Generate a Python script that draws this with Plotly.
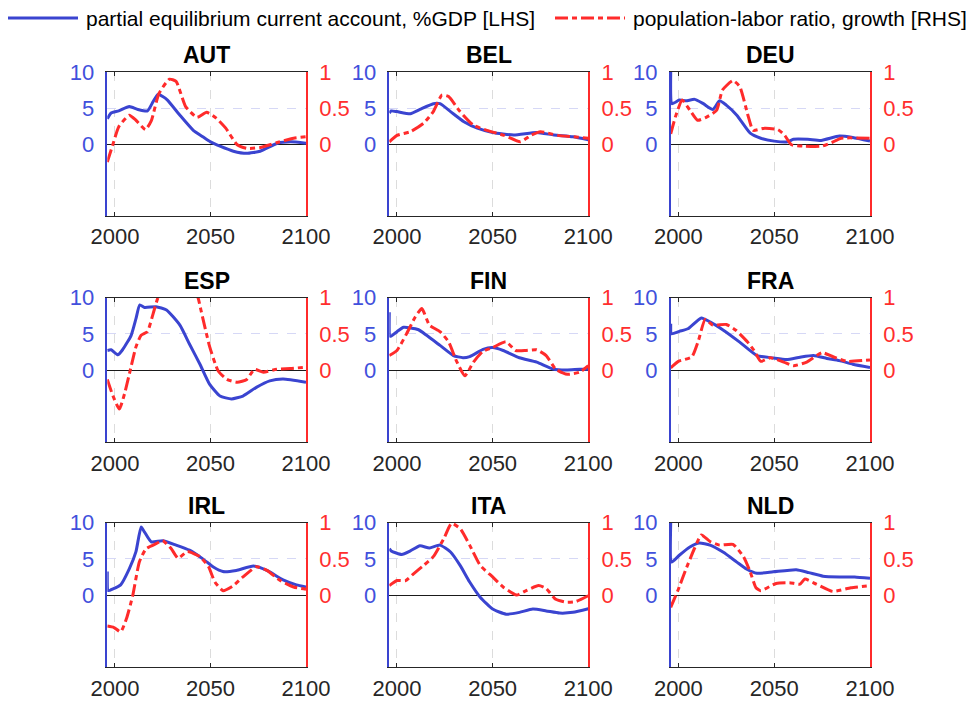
import plotly.graph_objects as go

# ---------------- data ----------------
countries = ["AUT", "BEL", "DEU", "ESP", "FIN", "FRA", "IRL", "ITA", "NLD"]
x_ticks = [2000, 2050, 2100]
lhs_ticks = [0, 5, 10]
rhs_ticks = [0, 0.5, 1]
rhs_ticktext = ["0", "0.5", "1"]

# partial equilibrium current account, %GDP [LHS]
AUT_ca_yr = [1996, 1998, 2002, 2007.5, 2012, 2017, 2020, 2022.5, 2025, 2027.5, 2034, 2041, 2046, 2050, 2055, 2062, 2069, 2076, 2085, 2092, 2100]
AUT_ca = [3.5, 4.3, 4.6, 5.2, 4.8, 4.6, 5.9, 6.9, 6.6, 6.1, 4.0, 1.9, 1.0, 0.3, -0.3, -1.0, -1.3, -1.0, 0.1, 0.3, 0.1]
BEL_ca_yr = [1996, 1997, 2000, 2007, 2012, 2019, 2022.5, 2028, 2035, 2042, 2050, 2061, 2073, 2082, 2092, 2100]
BEL_ca = [4.3, 4.6, 4.5, 4.2, 4.8, 5.6, 5.6, 4.5, 3.1, 2.2, 1.6, 1.25, 1.6, 1.25, 1.0, 0.6]
DEU_ca_yr = [1996, 1996.7, 2000.5, 2004, 2008.5, 2013, 2018, 2021.5, 2025, 2030.5, 2037.5, 2043, 2050, 2057, 2060, 2067.5, 2074.5, 2084, 2091, 2100]
DEU_ca = [10.0, 5.6, 6.1, 6.0, 6.2, 5.6, 4.8, 6.0, 5.4, 4.0, 1.5, 0.8, 0.4, 0.3, 0.65, 0.65, 0.5, 1.1, 0.9, 0.4]
ESP_ca_yr = [1996, 1998, 2001.5, 2004, 2008.5, 2011, 2013, 2015.5, 2021.5, 2027, 2034, 2039, 2044.5, 2049.5, 2055, 2061, 2067, 2074, 2081, 2088, 2100]
ESP_ca = [2.7, 2.8, 2.1, 2.8, 4.8, 7.1, 9.0, 8.65, 8.75, 8.3, 6.2, 3.6, 0.8, -1.95, -3.6, -4.0, -3.6, -2.4, -1.5, -1.25, -1.7]
FIN_ca_yr = [1996, 1996.5, 2000, 2003.5, 2011, 2015.5, 2022.5, 2029.5, 2034.5, 2038, 2045, 2050, 2055.5, 2064, 2073, 2081.5, 2088.5, 2095.5, 2100]
FIN_ca = [8.0, 4.65, 5.3, 5.9, 5.6, 4.8, 3.4, 2.0, 1.7, 1.85, 2.85, 3.1, 2.7, 1.7, 1.1, 0.15, 0.0, 0.1, 0.1]
FRA_ca_yr = [1996, 1996.4, 2000.5, 2005, 2012, 2016.5, 2023.5, 2032, 2041, 2049.5, 2056.5, 2063.5, 2070.5, 2077.5, 2084, 2091, 2100]
FRA_ca = [6.4, 5.0, 5.35, 5.7, 7.2, 6.65, 5.5, 3.85, 2.0, 1.67, 1.45, 1.77, 2.0, 1.6, 1.3, 0.8, 0.35]
IRL_ca_yr = [1996, 1996.5, 1999, 2003, 2007.5, 2011, 2013.7, 2015.5, 2019, 2025, 2032, 2039, 2046, 2051.5, 2056.5, 2063.5, 2072.5, 2079.5, 2088, 2095, 2100]
IRL_ca = [3.25, 0.6, 0.84, 1.4, 3.6, 6.0, 9.4, 8.7, 7.35, 7.5, 6.9, 6.2, 5.0, 3.86, 3.25, 3.4, 4.0, 3.4, 2.1, 1.4, 1.1]
ITA_ca_yr = [1996, 1997, 2002.5, 2007, 2012, 2017, 2022.5, 2028, 2033, 2038, 2043.5, 2050, 2057, 2064, 2071, 2078, 2085, 2092, 2100]
ITA_ca = [6.4, 6.1, 5.6, 6.1, 6.8, 6.5, 6.9, 5.95, 4.1, 1.8, -0.3, -1.95, -2.65, -2.4, -1.95, -2.2, -2.5, -2.4, -1.9]
NLD_ca_yr = [1996, 1996.5, 2000.5, 2006, 2011, 2016.5, 2023.5, 2030.5, 2035.5, 2041, 2049.5, 2061.5, 2068, 2075.5, 2084, 2092, 2100]
NLD_ca = [10.0, 4.55, 5.5, 6.65, 7.2, 6.9, 5.9, 4.55, 3.6, 3.0, 3.2, 3.5, 3.1, 2.6, 2.5, 2.5, 2.3]

# population-labor ratio, growth [RHS]
AUT_pl_yr = [1996, 1999, 2002, 2007.5, 2011, 2016, 2019, 2023, 2028.5, 2032, 2037, 2043, 2048, 2053, 2058, 2064, 2069, 2076, 2085, 2093.5, 2100]
AUT_pl = [-0.25, 0.0, 0.24, 0.40, 0.33, 0.20, 0.32, 0.70, 0.90, 0.87, 0.52, 0.37, 0.44, 0.36, 0.22, -0.01, -0.06, -0.05, 0.02, 0.08, 0.10]
BEL_pl_yr = [1996, 2000, 2007, 2014, 2019, 2023.5, 2027, 2033, 2040, 2047, 2056, 2064.5, 2070, 2075, 2084, 2092, 2100]
BEL_pl = [0.03, 0.12, 0.17, 0.29, 0.45, 0.68, 0.66, 0.45, 0.26, 0.19, 0.12, 0.03, 0.12, 0.17, 0.12, 0.10, 0.08]
DEU_pl_yr = [1996, 1998.5, 2002, 2006, 2010, 2014.5, 2020, 2023, 2028.5, 2032, 2036.5, 2039, 2045, 2052, 2055.5, 2059, 2066, 2075, 2080, 2085, 2100]
DEU_pl = [0.14, 0.38, 0.61, 0.47, 0.33, 0.37, 0.47, 0.75, 0.88, 0.80, 0.38, 0.19, 0.22, 0.20, 0.12, -0.01, -0.03, -0.03, 0.02, 0.08, 0.08]
ESP_pl_yr = [1996, 1999, 2002.3, 2005, 2008.4, 2011, 2013.7, 2017, 2020, 2022.5, 2027, 2033, 2039, 2043.5, 2045, 2049.6, 2054, 2058.6, 2064, 2069, 2073, 2077.7, 2084.7, 2091.8, 2100]
ESP_pl = [-0.13, -0.36, -0.54, -0.33, 0.04, 0.32, 0.48, 0.53, 0.78, 1.0, 1.2, 1.3, 1.25, 1.0, 0.83, 0.32, -0.01, -0.13, -0.17, -0.13, 0.01, -0.03, 0.01, 0.02, 0.04]
FIN_pl_yr = [1996, 2000, 2005, 2009.5, 2013, 2017, 2022.5, 2027, 2031, 2035.5, 2040, 2045, 2050, 2057, 2062, 2067.5, 2073, 2078, 2083, 2089, 2095.5, 2100]
FIN_pl = [0.2, 0.27, 0.5, 0.73, 0.85, 0.62, 0.53, 0.39, 0.13, -0.08, 0.11, 0.26, 0.31, 0.39, 0.27, 0.27, 0.28, 0.2, 0.01, -0.06, -0.03, 0.06]
FRA_pl_yr = [1996, 2000, 2007, 2010.5, 2014, 2018, 2025, 2030, 2036, 2039.5, 2043, 2048, 2055, 2060, 2067, 2075, 2081, 2088, 2100]
FRA_pl = [0.03, 0.12, 0.18, 0.41, 0.70, 0.62, 0.63, 0.55, 0.39, 0.27, 0.12, 0.17, 0.11, 0.06, 0.11, 0.24, 0.18, 0.12, 0.14]
IRL_pl_yr = [1996, 1999.5, 2003, 2006, 2009.3, 2012.8, 2016.3, 2021.5, 2025, 2029.5, 2033, 2038, 2044.5, 2049, 2052.3, 2056.6, 2062, 2067, 2074, 2079.5, 2086.5, 2093.5, 2100]
IRL_pl = [-0.43, -0.45, -0.51, -0.33, -0.01, 0.46, 0.64, 0.71, 0.75, 0.64, 0.51, 0.60, 0.53, 0.39, 0.18, 0.06, 0.13, 0.25, 0.39, 0.34, 0.2, 0.11, 0.08]
ITA_pl_yr = [1996, 2000, 2004.5, 2008.5, 2014, 2019, 2024.5, 2028.5, 2033, 2038, 2043.5, 2050, 2055.5, 2062.5, 2067.5, 2074, 2078, 2083, 2088.5, 2093.5, 2100]
ITA_pl = [0.13, 0.20, 0.2, 0.29, 0.41, 0.53, 0.78, 0.99, 0.92, 0.69, 0.41, 0.25, 0.11, 0.0, 0.06, 0.13, 0.09, -0.06, -0.1, -0.09, -0.01]
NLD_pl_yr = [1996, 2000, 2004, 2008.5, 2012, 2016.5, 2021.5, 2028.5, 2034, 2037.5, 2040.5, 2043, 2051, 2058, 2063.5, 2066, 2072, 2080.5, 2090, 2100]
NLD_pl = [-0.17, 0.08, 0.36, 0.65, 0.83, 0.74, 0.69, 0.70, 0.53, 0.32, 0.1, 0.06, 0.16, 0.17, 0.15, 0.22, 0.15, 0.05, 0.1, 0.13]

ca_years = [AUT_ca_yr, BEL_ca_yr, DEU_ca_yr, ESP_ca_yr, FIN_ca_yr, FRA_ca_yr, IRL_ca_yr, ITA_ca_yr, NLD_ca_yr]
ca_values = [AUT_ca, BEL_ca, DEU_ca, ESP_ca, FIN_ca, FRA_ca, IRL_ca, ITA_ca, NLD_ca]
pl_years = [AUT_pl_yr, BEL_pl_yr, DEU_pl_yr, ESP_pl_yr, FIN_pl_yr, FRA_pl_yr, IRL_pl_yr, ITA_pl_yr, NLD_pl_yr]
pl_values = [AUT_pl, BEL_pl, DEU_pl, ESP_pl, FIN_pl, FRA_pl, IRL_pl, ITA_pl, NLD_pl]

legend_ca = "partial equilibrium current account, %GDP [LHS]"
legend_pl = "population-labor ratio, growth [RHS]"

# ---------------- style ----------------
W, H = 978, 706
BLUE = "#3a44d0"
BLUE_T = "#4150dc"
RED = "#ff2b2b"
RED_T = "#ff2e2e"
FONT = "Liberation Sans, Arial, sans-serif"
DASH = "13px,4px,5px,4px"

col_left = [107.3, 389.3, 670.7]
col_right = [306.0, 588.3, 870.0]
row_top = [72.0, 297.7, 522.7]
row_bot = [216.0, 442.3, 667.3]

fig = go.Figure()
layout = {}
annotations = []

for i, c in enumerate(countries):
    r, k = divmod(i, 3)
    n = i + 1
    yl = 2 * i + 1
    yr = 2 * i + 2
    xname = "x" if n == 1 else f"x{n}"
    ylname = "y" if yl == 1 else f"y{yl}"
    yrname = f"y{yr}"
    xd = [col_left[k] / W, col_right[k] / W]
    yd = [1 - row_bot[r] / H, 1 - row_top[r] / H]

    fig.add_trace(go.Scatter(x=ca_years[i], y=ca_values[i], xaxis=xname, yaxis=ylname,
                             mode="lines", line=dict(color=BLUE, width=3, shape="spline", smoothing=0.5),
                             showlegend=False, name=legend_ca))
    fig.add_trace(go.Scatter(x=pl_years[i], y=pl_values[i], xaxis=xname, yaxis=yrname,
                             mode="lines", line=dict(color=RED, width=3, dash=DASH, shape="spline", smoothing=0.5),
                             showlegend=False, name=legend_pl))

    layout["xaxis" if n == 1 else f"xaxis{n}"] = dict(
        domain=xd, anchor=ylname, range=[1996, 2100], tickvals=x_ticks,
        showgrid=True, gridcolor="#dcdcdc", griddash="dash", gridwidth=1,
        showline=True, mirror="ticks", linecolor="#262626", linewidth=1,
        ticks="inside", ticklen=4, tickcolor="#262626",
        tickfont=dict(size=22, color="#262626", family=FONT),
        ticklabelstandoff=1,
        automargin=False, zeroline=False, fixedrange=True)
    layout["yaxis" if yl == 1 else f"yaxis{yl}"] = dict(
        domain=yd, anchor=xname, range=[-10, 10], tickvals=lhs_ticks,
        showgrid=True, gridcolor="#d6d8f6", griddash="dash", gridwidth=1,
        zeroline=True, zerolinecolor="#1a1a1a", zerolinewidth=1,
        showline=True, linecolor=BLUE, linewidth=1.5, ticks="",
        tickfont=dict(size=22, color=BLUE_T, family=FONT),
        ticklabelstandoff=7,
        automargin=False, fixedrange=True)
    layout[f"yaxis{yr}"] = dict(
        domain=yd, anchor=xname, overlaying=ylname, side="right",
        range=[-1, 1], tickvals=rhs_ticks, ticktext=rhs_ticktext,
        showgrid=False, zeroline=False,
        showline=True, linecolor=RED, linewidth=1.5, ticks="",
        tickfont=dict(size=22, color=RED_T, family=FONT),
        ticklabelstandoff=7,
        automargin=False, fixedrange=True)

    annotations.append(dict(text=f"<b>{c}</b>", xref="paper", yref="paper",
                            x=(xd[0] + xd[1]) / 2, y=yd[1], xanchor="center",
                            yanchor="bottom", yshift=2, showarrow=False,
                            font=dict(size=23, color="black", family=FONT)))

# legend drawn manually (sample lines + text)
ly = 1 - 18 / H
shapes = [
    dict(type="line", xref="paper", yref="paper", x0=8 / W, x1=78 / W, y0=ly, y1=ly,
         line=dict(color=BLUE, width=3)),
    dict(type="line", xref="paper", yref="paper", x0=555 / W, x1=625 / W, y0=ly, y1=ly,
         line=dict(color=RED, width=3, dash=DASH)),
]
annotations.append(dict(text=legend_ca, xref="paper", yref="paper", x=84 / W, y=ly,
                        xanchor="left", yanchor="middle", showarrow=False,
                        font=dict(size=21, color="black", family=FONT)))
annotations.append(dict(text=legend_pl, xref="paper", yref="paper", x=631 / W, y=ly,
                        xanchor="left", yanchor="middle", showarrow=False,
                        font=dict(size=21, color="black", family=FONT)))

fig.update_layout(**layout)
fig.update_layout(template="none", width=W, height=H, margin=dict(l=0, r=0, t=0, b=0, pad=0),
                  paper_bgcolor="white", plot_bgcolor="white",
                  annotations=annotations, shapes=shapes, showlegend=False,
                  font=dict(family=FONT))
fig.write_html("out.html")
